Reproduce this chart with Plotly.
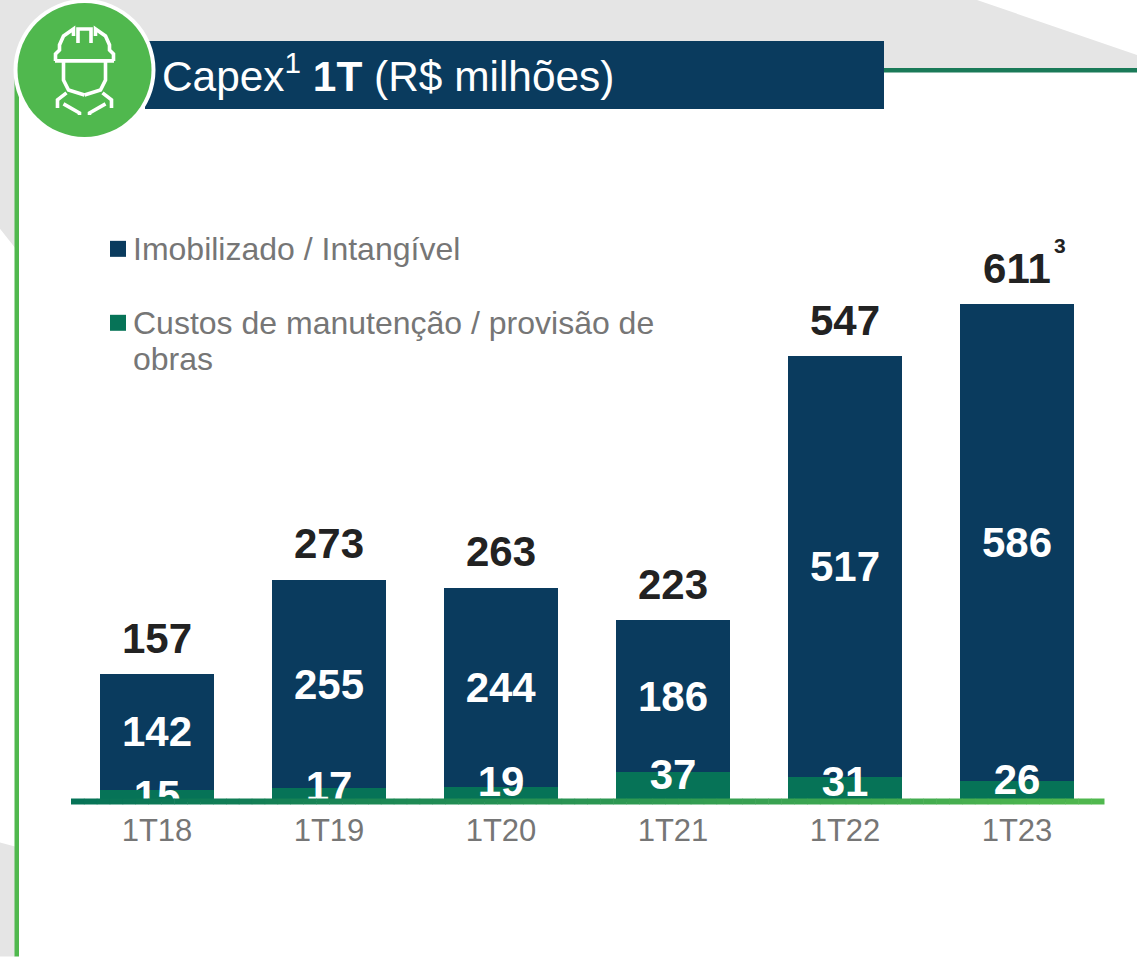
import plotly.graph_objects as go

categories = ["1T18", "1T19", "1T20", "1T21", "1T22", "1T23"]
imobilizado = [142, 255, 244, 186, 517, 586]
custos = [15, 17, 19, 37, 31, 26]
totais = [157, 273, 263, 223, 547, 611]

W, H = 1137, 957
BASE = 802.5
PX_PER_UNIT = 0.815
BLUE = "#0A3B5E"
GREEN = "#067357"
LIME = "#50B84E"
GRAY = "#E5E5E5"
TEXT_GRAY = "#767676"
FONT = "Liberation Sans"

# vertical nudges of the small green-bar labels, in pixels above the bar centre
green_label_nudge = [-4, 5, 9, 8, 4, 8]
total_label_gap = 11


def px(x):
    return x / W


def py(y):
    return (BASE - y) / BASE


def path(points, close=False):
    s = "M" + " L".join(f"{px(x):.5f},{py(y):.5f}" for x, y in points)
    return s + (" Z" if close else "")


def poly(points, color, layer="below"):
    return dict(type="path", xref="paper", yref="paper", path=path(points, True),
                fillcolor=color, line=dict(width=0), layer=layer)


def rect(x0, y0, x1, y1, color, layer="below"):
    return dict(type="rect", xref="paper", yref="paper", x0=px(x0), x1=px(x1),
                y0=py(y1), y1=py(y0), fillcolor=color, line=dict(width=0), layer=layer)


def circle(cx, cy, r, color):
    return dict(type="circle", xref="paper", yref="paper", x0=px(cx - r), x1=px(cx + r),
                y0=py(cy + r), y1=py(cy - r), fillcolor=color, line=dict(width=0), layer="above")


def stroke(points, width=3.6):
    return dict(type="path", xref="paper", yref="paper", path=path(points),
                line=dict(color="white", width=width), layer="above")


def lerp(a, b, t):
    return "#" + "".join(f"{round(int(a[i:i+2],16)+(int(b[i:i+2],16)-int(a[i:i+2],16))*t):02X}" for i in (1, 3, 5))


shapes = [
    poly([(0, 0), (977, 0), (1137, 55), (1137, 70), (15, 70), (15, 248), (0, 229)], GRAY),
    poly([(0, 843), (15, 847), (15, 957), (0, 957)], GRAY),
    rect(14.5, 70, 19, 957, LIME),
    rect(884, 68, 1137, 72.5, "#1A7A58"),
    rect(145, 41, 884, 109, BLUE, "above"),
    circle(84.5, 70, 71, "white"),
    circle(84.5, 70, 67, LIME),
    rect(110, 241, 126, 257, BLUE),
    rect(110, 315, 126, 331, GREEN),
]

# helmet icon
cx = 84.5
for side in (-1, 1):
    shapes += [
        stroke([(cx + side * 29, 61), (cx + side * 29, 54), (cx + side * 25, 50), (cx + side * 25, 45),
                (cx + side * 21, 36), (cx + side * 11, 29), (cx + side * 11, 36)]),
        stroke([(cx + side * 21, 62), (cx + side * 21, 80), (cx + side * 16, 90), (cx, 95)]),
        stroke([(cx + side * 18, 93), (cx + side * 27, 100), (cx + side * 27, 108)]),
        stroke([(cx + side * 21, 104), (cx + side * 5, 113), (cx + side * 5, 115)]),
    ]
shapes += [
    stroke([(55, 61), (114, 61)], 3.8),
    stroke([(78, 43), (78, 29), (91, 29), (91, 43)]),
]

# gradient baseline
N = 80
x0, x1 = 71.0, 1104.0
for i in range(N):
    a = x0 + (x1 - x0) * i / N
    b = x0 + (x1 - x0) * (i + 1) / N + 0.5
    shapes.append(rect(a, 799, b, 805, lerp(GREEN, LIME, i / (N - 1)), "above"))

fig = go.Figure()
fig.add_bar(x=categories, y=custos, name="Custos de manutenção / provisão de obras",
            marker=dict(color=GREEN, line=dict(width=0)))
fig.add_bar(x=categories, y=imobilizado, name="Imobilizado / Intangível",
            marker=dict(color=BLUE, line=dict(width=0)),
            text=[str(v) for v in imobilizado], textposition="inside", insidetextanchor="middle",
            constraintext="none", textangle=0,
            textfont=dict(family=FONT, size=42, color="white", weight="bold"))
fig.add_scatter(x=categories, y=[v / 2 + n / PX_PER_UNIT for v, n in zip(custos, green_label_nudge)],
                mode="text", text=[str(v) for v in custos], textposition="middle center",
                textfont=dict(family=FONT, size=42, color="white", weight="bold"),
                hoverinfo="skip", cliponaxis=False)
fig.add_scatter(x=categories, y=[v + total_label_gap / PX_PER_UNIT for v in totais],
                mode="text", text=[str(v) for v in totais],
                textposition="top center",
                textfont=dict(family=FONT, size=42, color="#222222", weight="bold"),
                hoverinfo="skip", cliponaxis=False)

legend_font = dict(family=FONT, size=32, color=TEXT_GRAY)
annotations = [
    dict(text="3", x="1T23", y=611, xref="x", yref="y", xshift=43, yshift=59, showarrow=False,
         font=dict(family=FONT, size=21, color="#222222", weight="bold")),
    dict(text="Imobilizado / Intangível", xref="paper", yref="paper", x=px(131), y=py(249),
         xanchor="left", yanchor="middle", showarrow=False, font=legend_font),
    dict(text="Custos de manutenção / provisão de", xref="paper", yref="paper", x=px(131), y=py(323),
         xanchor="left", yanchor="middle", showarrow=False, font=legend_font),
    dict(text="obras", xref="paper", yref="paper", x=px(131), y=py(359),
         xanchor="left", yanchor="middle", showarrow=False, font=legend_font),
]

fig.update_layout(
    width=W, height=H, barmode="stack", bargap=0.3372, showlegend=False,
    margin=dict(l=0, r=0, t=0, b=H - BASE, pad=0),
    paper_bgcolor="white", plot_bgcolor="rgba(0,0,0,0)",
    title=dict(text="Capex<sup>1</sup> <b>1T</b> (R$ milhões)", xref="paper", yref="container",
               x=162 / W, xanchor="left", y=1 - 76 / H, yanchor="middle",
               font=dict(family=FONT, size=42.4, color="white")),
    xaxis=dict(type="category", range=[-157 / 172, (W - 157) / 172], showgrid=False, zeroline=False,
               showline=False, ticks="outside", ticklen=1, tickcolor="rgba(0,0,0,0)",
               tickfont=dict(family=FONT, size=31, color=TEXT_GRAY)),
    yaxis=dict(range=[0, BASE / PX_PER_UNIT], visible=False),
    shapes=shapes, annotations=annotations,
)
fig.write_html("out.html", config=dict(displayModeBar=False),
               post_script="document.body.style.margin='0';")
